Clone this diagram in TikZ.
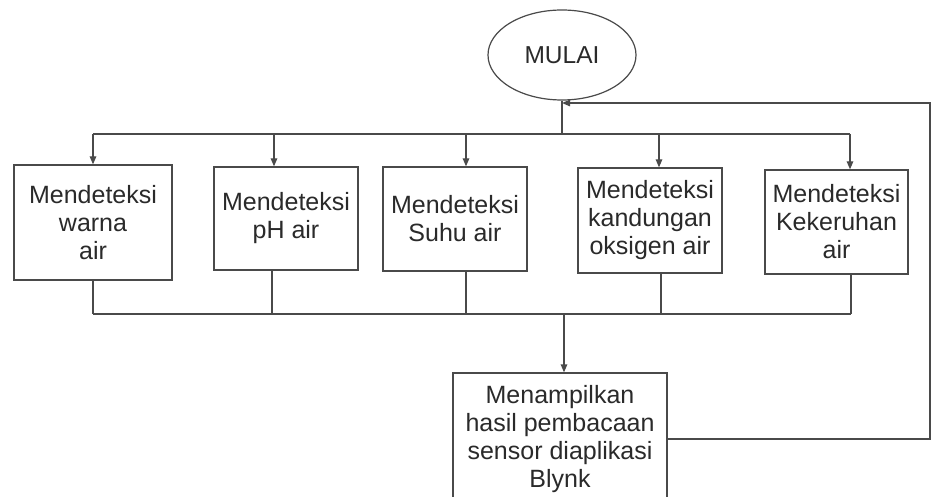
\documentclass[tikz,border=0pt]{standalone}
\usepackage{fontspec}
\setmainfont{Liberation Sans}
\usetikzlibrary{arrows.meta,shapes.geometric}
\definecolor{linec}{HTML}{4A4A4A}
\definecolor{textc}{HTML}{2A2A2A}
\begin{document}
\begin{tikzpicture}[x=1pt,y=-1pt,
  line/.style={draw=linec,line width=1.3pt},
  arr/.style={line,-{Triangle[length=8pt,width=6.5pt]}},
  procbox/.style={draw=linec,line width=1.3pt,rectangle,inner sep=0pt,align=center,
    text=textc,font=\fontsize{25}{28}\selectfont},
  startnode/.style={draw=linec,line width=1.2pt,ellipse,inner sep=0pt,
    text=textc,font=\fontsize{24.5}{28}\selectfont}]
\useasboundingbox (0,0) rectangle (931,497);
\fill[white] (0,0) rectangle (931,497);
\node[startnode,minimum width=148pt,minimum height=90pt] (start) at (562,55) {MULAI};
\node[procbox,minimum width=158pt,minimum height=115pt] (b1) at (93,222.5) {Mendeteksi\\warna\\air};
\node[procbox,minimum width=144pt,minimum height=103pt] (b2) at (286,218.5) {Mendeteksi\\pH air};
\node[procbox,minimum width=144pt,minimum height=104pt] (b3) at (455,219) {Mendeteksi\\Suhu air};
\node[procbox,minimum width=144pt,minimum height=105pt] (b4) at (650,220.5) {Mendeteksi\\kandungan\\oksigen air};
\node[procbox,minimum width=143pt,minimum height=104pt] (b5) at (836.5,222) {Mendeteksi\\Kekeruhan\\air};
\node[procbox,minimum width=214pt,minimum height=132pt] (fin) at (560,439) {Menampilkan\\hasil pembacaan\\sensor diaplikasi\\Blynk};
% top bus
\coordinate (tc) at (start.south |- 0,134);
\coordinate (t1) at (93,134);
\coordinate (t2) at (274,134);
\coordinate (t3) at (466,134);
\coordinate (t4) at (659,134);
\coordinate (t5) at (850,134);
\draw[line] (start.south) -- (tc);
\draw[line] (t1) -- (t5);
\draw[arr] (t1) -- (t1 |- b1.north);
\draw[arr] (t2) -- (t2 |- b2.north);
\draw[arr] (t3) -- (t3 |- b3.north);
\draw[arr] (t4) -- (t4 |- b4.north);
\draw[arr] (t5) -- (t5 |- b5.north);
% bottom bus
\coordinate (u1) at (93,314);
\coordinate (u2) at (272,314);
\coordinate (u3) at (466,314);
\coordinate (u4) at (661,314);
\coordinate (u5) at (851,314);
\coordinate (uc) at (564,314);
\draw[line] (u1 |- b1.south) -- (u1);
\draw[line] (u2 |- b2.south) -- (u2);
\draw[line] (u3 |- b3.south) -- (u3);
\draw[line] (u4 |- b4.south) -- (u4);
\draw[line] (u5 |- b5.south) -- (u5);
\draw[line] (u1) -- (u5);
\draw[arr] (uc) -- (uc |- fin.north);
% feedback loop
\coordinate (fbr) at (930,103);
\coordinate (fbe) at (start.south |- 0,103);
\draw[arr] (fin.east) -| (fbr) -- (fbe);
\end{tikzpicture}
\end{document}
